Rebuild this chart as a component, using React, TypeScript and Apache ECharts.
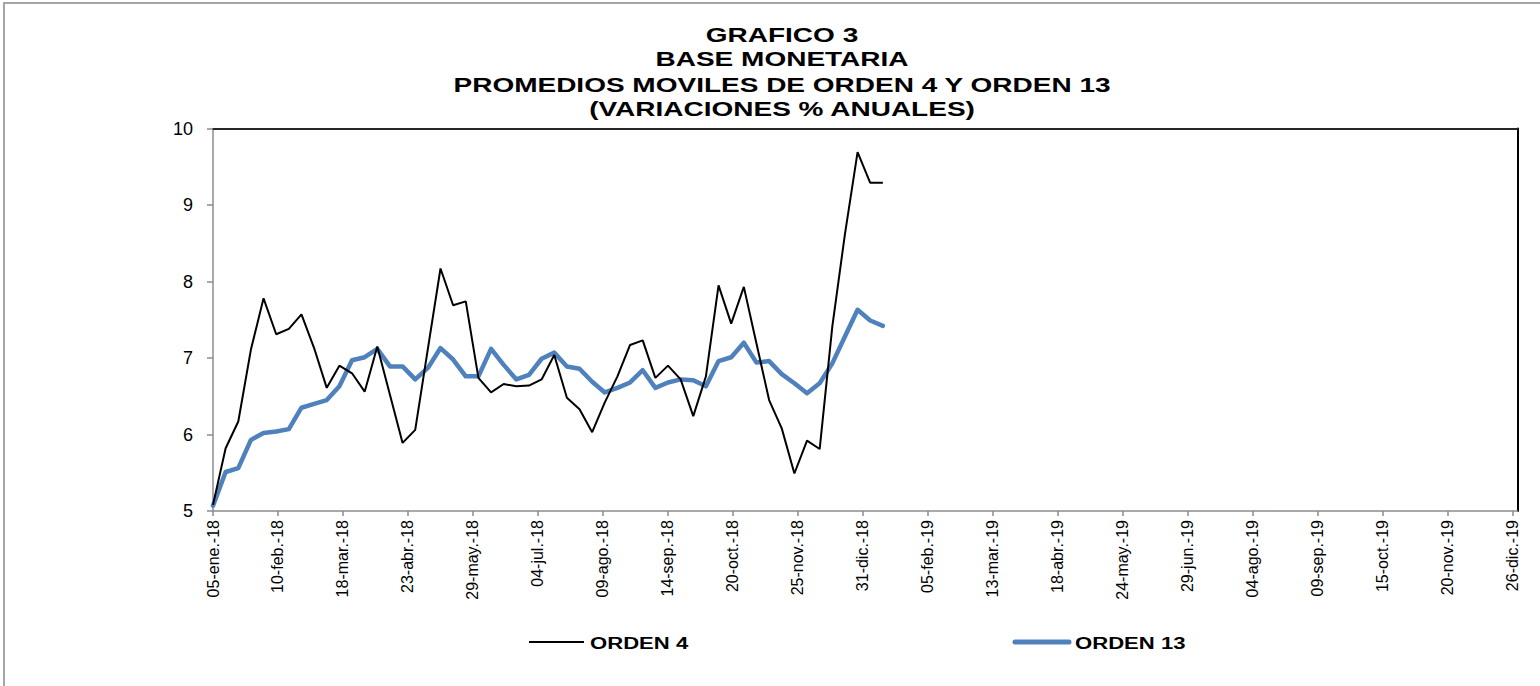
import React, { useEffect, useRef } from "react";
import * as echarts from "echarts";

const weekDates = [
  "2018-01-05", "2018-01-12", "2018-01-19", "2018-01-26",
  "2018-02-02", "2018-02-09", "2018-02-16", "2018-02-23",
  "2018-03-02", "2018-03-09", "2018-03-16", "2018-03-23", "2018-03-30",
  "2018-04-06", "2018-04-13", "2018-04-20", "2018-04-27",
  "2018-05-04", "2018-05-11", "2018-05-18", "2018-05-25",
  "2018-06-01", "2018-06-08", "2018-06-15", "2018-06-22", "2018-06-29",
  "2018-07-06", "2018-07-13", "2018-07-20", "2018-07-27",
  "2018-08-03", "2018-08-10", "2018-08-17", "2018-08-24", "2018-08-31",
  "2018-09-07", "2018-09-14", "2018-09-21", "2018-09-28",
  "2018-10-05", "2018-10-12", "2018-10-19", "2018-10-26",
  "2018-11-02", "2018-11-09", "2018-11-16", "2018-11-23", "2018-11-30",
  "2018-12-07", "2018-12-14", "2018-12-21", "2018-12-28",
  "2019-01-04", "2019-01-11",
];

const orden4 = [
  5.08, 5.82, 6.17, 7.11, 7.78, 7.31, 7.38, 7.57, 7.13, 6.61,
  6.9, 6.8, 6.56, 7.15, 6.52, 5.89, 6.06, 7.12, 8.17, 7.69,
  7.74, 6.74, 6.55, 6.66, 6.63, 6.64, 6.72, 7.04, 6.48, 6.33,
  6.03, 6.42, 6.76, 7.17, 7.23, 6.74, 6.9, 6.72, 6.24, 6.76,
  7.95, 7.45, 7.93, 7.19, 6.45, 6.08, 5.49, 5.92, 5.81, 7.41,
  8.62, 9.69, 9.29, 9.29,
];

const orden13 = [
  5.07, 5.51, 5.56, 5.93, 6.02, 6.04, 6.07, 6.35, 6.4, 6.45,
  6.63, 6.97, 7.01, 7.12, 6.89, 6.89, 6.72, 6.87, 7.13, 6.98,
  6.76, 6.76, 7.12, 6.91, 6.72, 6.78, 6.99, 7.07, 6.89, 6.86,
  6.69, 6.55, 6.61, 6.68, 6.84, 6.61, 6.68, 6.72, 6.71, 6.63,
  6.96, 7.01, 7.2, 6.94, 6.96, 6.79, 6.67, 6.54, 6.67, 6.93,
  7.28, 7.63, 7.49, 7.42,
];

const xTickDates = [
  "2018-01-05", "2018-02-10", "2018-03-18", "2018-04-23", "2018-05-29",
  "2018-07-04", "2018-08-09", "2018-09-14", "2018-10-20", "2018-11-25",
  "2018-12-31", "2019-02-05", "2019-03-13", "2019-04-18", "2019-05-24",
  "2019-06-29", "2019-08-04", "2019-09-09", "2019-10-15", "2019-11-20",
  "2019-12-26",
];

const xTickLabels = [
  "05-ene.-18", "10-feb.-18", "18-mar.-18", "23-abr.-18", "29-may.-18",
  "04-jul.-18", "09-ago.-18", "14-sep.-18", "20-oct.-18", "25-nov.-18",
  "31-dic.-18", "05-feb.-19", "13-mar.-19", "18-abr.-19", "24-may.-19",
  "29-jun.-19", "04-ago.-19", "09-sep.-19", "15-oct.-19", "20-nov.-19",
  "26-dic.-19",
];

const titleLines = [
  "GRAFICO 3",
  "BASE MONETARIA",
  "PROMEDIOS MOVILES DE ORDEN 4 Y ORDEN 13",
  "(VARIACIONES % ANUALES)",
];

const seriesNames = ["ORDEN 4", "ORDEN 13"];
const seriesColors = ["#000000", "#4f81bd"];

const FONT = '"Liberation Sans", Arial, sans-serif';

function dayOffset(iso: string): number {
  const [y, m, d] = iso.split("-").map(Number);
  const [y0, m0, d0] = xTickDates[0].split("-").map(Number);
  return Math.round((Date.UTC(y, m - 1, d) - Date.UTC(y0, m0 - 1, d0)) / 86400000);
}

export default function App() {
  const ref = useRef<HTMLDivElement>(null);

  useEffect(() => {
    if (!ref.current) return;
    const chart = echarts.init(ref.current, null, { renderer: "svg" });
    const tickDays = xTickDates.map(dayOffset);
    const xMax = tickDays[tickDays.length - 1] + 2.5;
    const weekDays = weekDates.map(dayOffset);

    const titleY = [35, 59.5, 85, 109];
    const legendY = 642;
    const legendItems = [
      { x1: 529, x2: 584, tx: 590, width: 2, cap: "butt" },
      { x1: 1015, x2: 1069, tx: 1075, width: 5, cap: "round" },
    ];

    const textStyle = (t: string, size: number, align: string) => ({
      text: t,
      font: `bold ${size}px ${FONT}`,
      fill: "#000",
      textAlign: align,
      align: align,
      textVerticalAlign: "middle",
      verticalAlign: "middle",
    });

    chart.setOption({
      animation: false,
      backgroundColor: "#ffffff",
      textStyle: { fontFamily: FONT },
      graphic: [
        {
          type: "rect",
          silent: true,
          shape: { x: 4, y: 3, width: 1600, height: 800 },
          style: { fill: "none", stroke: "#a6a6a6", lineWidth: 2 },
        },
        ...titleLines.map((t, i) => ({
          type: "text",
          x: 782,
          y: titleY[i],
          scaleX: 1.4,
          silent: true,
          style: textStyle(t, 20, "center"),
        })),
        ...legendItems.map((it, i) => ({
          type: "line",
          silent: true,
          shape: { x1: it.x1, y1: legendY, x2: it.x2, y2: legendY },
          style: { stroke: seriesColors[i], lineWidth: it.width, lineCap: it.cap },
        })),
        ...legendItems.map((it, i) => ({
          type: "text",
          x: it.tx,
          y: legendY + 0.5,
          scaleX: 1.3,
          silent: true,
          style: textStyle(seriesNames[i], 17, "left"),
        })),
      ],
      grid: {
        left: 213,
        right: 1540 - 1517.5,
        top: 128.5,
        bottom: 686 - 511,
        outerBoundsMode: "none",
        containLabel: false,
      },
      xAxis: [
        {
          type: "value",
          min: 0,
          max: xMax,
          axisLine: { show: true, lineStyle: { color: "#8c8c8c", width: 1.5 } },
          axisTick: {
            show: true,
            length: 5,
            customValues: tickDays,
            lineStyle: { color: "#8c8c8c", width: 1.5 },
          },
          axisLabel: {
            customValues: tickDays,
            rotate: 90,
            margin: 9,
            fontSize: 16,
            color: "#000",
            fontFamily: FONT,
            formatter: (v: number) => {
              const i = tickDays.indexOf(Math.round(v));
              return i >= 0 ? xTickLabels[i] : "";
            },
          },
          splitLine: { show: false },
        },
        {
          type: "value",
          position: "top",
          min: 0,
          max: xMax,
          axisLine: { show: true, onZero: false, lineStyle: { color: "#262626", width: 2 } },
          axisTick: { show: false },
          axisLabel: { show: false },
          splitLine: { show: false },
        },
      ],
      yAxis: [
        {
          type: "value",
          min: 5,
          max: 10,
          interval: 1,
          axisLine: { show: true, onZero: false, lineStyle: { color: "#8c8c8c", width: 1.5 } },
          axisTick: { show: true, length: 6, lineStyle: { color: "#8c8c8c", width: 1.5 } },
          axisLabel: { margin: 20, fontSize: 18, color: "#000", fontFamily: FONT },
          splitLine: { show: false },
        },
        {
          type: "value",
          position: "right",
          min: 5,
          max: 10,
          interval: 1,
          axisLine: { show: true, onZero: false, lineStyle: { color: "#000", width: 2 } },
          axisTick: { show: false },
          axisLabel: { show: false },
          splitLine: { show: false },
        },
      ],
      series: [
        {
          name: seriesNames[0],
          type: "line",
          symbol: "none",
          data: weekDays.map((d, i) => [d, orden4[i]]),
          lineStyle: { color: seriesColors[0], width: 2 },
          itemStyle: { color: seriesColors[0] },
          z: 3,
        },
        {
          name: seriesNames[1],
          type: "line",
          symbol: "none",
          data: weekDays.map((d, i) => [d, orden13[i]]),
          lineStyle: { color: seriesColors[1], width: 4.5, cap: "round", join: "round" },
          itemStyle: { color: seriesColors[1] },
          z: 2,
        },
      ],
    });

    return () => chart.dispose();
  }, []);

  return (
    <div
      ref={ref}
      style={{ position: "absolute", left: 0, top: 0, width: 1540, height: 686, background: "#fff" }}
    />
  );
}
